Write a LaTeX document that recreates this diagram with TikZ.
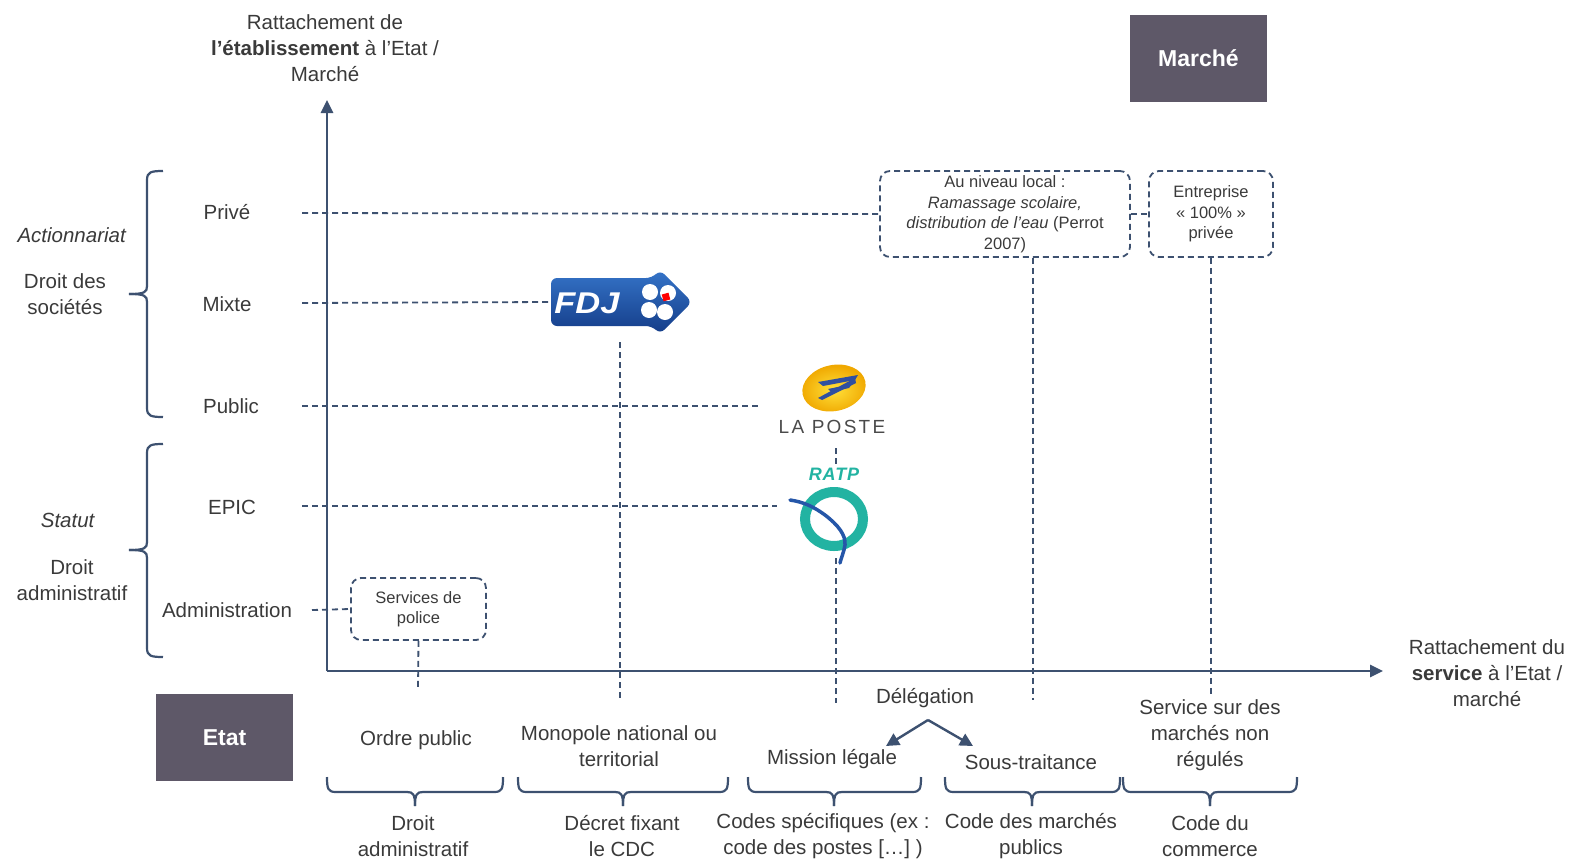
\documentclass[tikz,border=0pt]{standalone}
\usepackage{fontspec}
\setmainfont{Liberation Sans}
\usetikzlibrary{arrows.meta,shapes.geometric}
\definecolor{txt}{HTML}{3A3A3A}
\definecolor{axc}{HTML}{3D5170}
\definecolor{boxc}{HTML}{5E5868}
\definecolor{fdjA}{HTML}{3574C8}
\definecolor{fdjB}{HTML}{143C88}
\definecolor{ratpteal}{HTML}{22B3A2}
\definecolor{ratpblue}{HTML}{2556A8}
\definecolor{posteY}{HTML}{FFE03A}
\definecolor{posteO}{HTML}{F0A800}
\definecolor{posteblue}{HTML}{2F4FA0}
\definecolor{postegray}{HTML}{4A4A4A}
\newcommand\mybraceh[3]{%
  \draw[brc] (#1,777) .. controls (#1,789) and (#1+1,792) .. (#1+9,792) -- (#2-8,792) .. controls (#2-2,792) and (#2,794) .. (#2,806);
  \draw[brc] (#3,777) .. controls (#3,789) and (#3-1,792) .. (#3-9,792) -- (#2+8,792) .. controls (#2+2,792) and (#2,794) .. (#2,806);}
\newcommand\mybracev[3]{%
  \draw[brc] (163,#1) .. controls (151,#1) and (147,#1+1) .. (147,#1+9) -- (147,#2-8) .. controls (147,#2-2) and (145,#2) .. (129,#2);
  \draw[brc] (163,#3) .. controls (151,#3) and (147,#3-1) .. (147,#3-9) -- (147,#2+8) .. controls (147,#2+2) and (145,#2) .. (129,#2);}
\begin{document}
\begin{tikzpicture}[x=1pt,y=-1pt,
  lbl/.style={font=\fontsize{20.5}{26}\selectfont, text=txt, align=center, inner sep=0pt},
  small/.style={font=\fontsize{16.5}{20.5}\selectfont, text=txt, align=center},
  axis/.style={draw=axc, line width=2.6pt, -{Triangle[length=13pt,width=12pt]}},
  dline/.style={draw=axc, line width=1.8pt, dash pattern=on 6pt off 4pt},
  dbox/.style={draw=axc, line width=1.8pt, dash pattern=on 6pt off 4pt, rounded corners=10pt, inner sep=0pt},
  darkbox/.style={fill=boxc, text=white, font=\fontsize{23}{26}\bfseries, minimum width=137pt, minimum height=87pt, inner sep=0pt},
  brc/.style={draw=axc, line width=2.2pt},
  darr/.style={draw=axc, line width=2.4pt, -{Triangle[length=13pt,width=13pt]}}
]
\useasboundingbox (0,0) rectangle (1579,862);

% dark boxes
\node[darkbox] (marche) at (1198.5,58.5) {Marché};
\node[darkbox] (etat) at (224.5,737.5) {Etat};

% axis labels
\node[lbl] (ylab) at (325,48) {Rattachement de\\\textbf{l’établissement} à l’Etat /\\Marché};
\node[lbl] (xlab) at (1487,673) {Rattachement du\\\textbf{service} à l’Etat /\\marché};

% left labels
\node[lbl] (act) at (72,235) {\textit{Actionnariat}};
\node[lbl] (dsoc) at (65,294) {Droit des\\sociétés};
\node[lbl] (stat) at (68,520) {\textit{Statut}};
\node[lbl] (dadm) at (72,580) {Droit\\administratif};
\mybracev{171}{294}{417}
\mybracev{444}{550}{657}

% row labels
\node[lbl] (prive) at (227,212) {Privé};
\node[lbl] (mixte) at (227,304) {Mixte};
\node[lbl] (public) at (231,406) {Public};
\node[lbl] (epic) at (232,507) {EPIC};
\node[lbl] (admin) at (227,610) {Administration};

\coordinate (ps) at (302,213);
\coordinate (ms) at (302,303);
\coordinate (pus) at (302,406);
\coordinate (es) at (302,506);
\coordinate (as) at (312,610);

% boxes
\node[dbox, small, minimum width=250pt, minimum height=86pt] (b1) at (1005,214) {Au niveau local :\\\textit{Ramassage scolaire,}\\\textit{distribution de l’eau} (Perrot\\2007)};
\node[dbox, small, minimum width=124pt, minimum height=86pt] (b2) at (1211,214) {Entreprise\\« 100\% »\\privée};
\node[dbox, small, minimum width=135pt, minimum height=62pt] (pol) at (418.5,609) {Services de\\police};

% logo anchor nodes
\node[inner sep=0pt, minimum width=138pt, minimum height=64pt] (fdj) at (620,302) {};
\node[inner sep=0pt, minimum width=144pt, minimum height=80pt] (poste) at (832,406) {};
\node[inner sep=0pt, minimum width=114pt, minimum height=20pt] (ratp) at (834,506) {};

% end points of verticals
\coordinate (pole) at (418,688);
\coordinate (fe) at (620,698);
\coordinate (pe) at (836,703);
\coordinate (b1e) at (1033,700);
\coordinate (b2e) at (1211,695);

% dashed connectors
\draw[dline] (ps) -- (b1.west);
\draw[dline] (ms) -- (fdj.west);
\draw[dline] (pus) -- (poste.west);
\draw[dline] (es) -- (ratp.west);
\draw[dline] (as) -- (pol.west);
\draw[dline] (b1.east) -- (b2.west);
\draw[dline] (pol.south) -- (pole);
\draw[dline] ([yshift=-8pt]fdj.south) -- (fe);
\draw[dline] ([xshift=4pt,yshift=-2pt]poste.south) -- (pe);
\draw[dline] ([xshift=28pt]b1.south) -- (b1e);
\draw[dline] (b2.south) -- (b2e);

% axes
\coordinate (orig) at (327,671);
\coordinate (ytip) at (327,100);
\coordinate (xtip) at (1383,671);
\draw[axis] (orig) -- (ytip);
\draw[axis] (orig) -- (xtip);

% FDJ logo
\shade[top color=fdjA, bottom color=fdjB, rounded corners=6pt]
  (551,278) -- (652,278) -- (660,270) -- (692,302) -- (660,334) -- (652,326) -- (551,326) -- cycle;
\node[font=\fontsize{30}{30}\bfseries\itshape, text=white, xscale=1.15, inner sep=0pt] (fdjt) at (587,303) {FDJ};
\fill[white] (650,292) circle (8);
\fill[white] (668,293) circle (8);
\fill[white] (649,310) circle (8);
\fill[white] (665,312) circle (8);
\fill[red, rotate around={15:(666,297)}] (662.5,293.5) rectangle (669.5,300.5);

% La Poste logo
\begin{scope}[rotate around={12:(834,388)}]
\shade[inner color=posteY, outer color=posteO] (834,388) ellipse (32 and 23);
\end{scope}
\fill[posteblue] (818,382) -- (858,375) -- (855,380) -- (823,386) -- cycle;
\fill[posteblue] (828,389) -- (852,384) -- (849,388) -- (831,392) -- cycle;
\fill[posteblue] (855,378) -- (818,398) -- (822,400) -- (856,383) -- cycle;
\node[font=\fontsize{19}{19}\selectfont\addfontfeature{LetterSpace=12}, text=postegray, inner sep=0pt] (postet) at (832,427) {LA POSTE};

% RATP logo
\fill[white] (795,464) rectangle (875,558);
\node[font=\fontsize{18}{18}\bfseries\itshape\addfontfeature{LetterSpace=5}, text=ratpteal, inner sep=0pt] (ratpt) at (834,474) {RATP};
\draw[ratpteal, line width=10pt] (834,519) ellipse (29 and 27);
\draw[ratpblue, line width=3.5pt, line cap=round] (790,500) .. controls (804,502) and (814,507) .. (825,515) .. controls (838,525) and (846,535) .. (845,545) .. controls (844,552) and (841,558) .. (840,563);

% bottom texts
\node[lbl] (ordre) at (416,740) {Ordre public};
\node[lbl] (mono) at (619,746) {Monopole national ou\\territorial};
\node[lbl] (deleg) at (925,698) {Délégation};
\node[lbl] (mission) at (832,759) {Mission légale};
\node[lbl] (sous) at (1031,762) {Sous-traitance};
\node[lbl] (servm) at (1210,735) {Service sur des\\marchés non\\régulés};
\coordinate (dsplit) at (928,720);
\coordinate (mlp) at (886,746);
\coordinate (stp) at (973,746);
\draw[darr] (dsplit) -- (mlp);
\draw[darr] (dsplit) -- (stp);

% bottom braces
\mybraceh{327}{415}{503}
\mybraceh{518}{623}{728}
\mybraceh{748}{834}{921}
\mybraceh{945}{1032}{1120}
\mybraceh{1123}{1210}{1297}

\node[lbl] (l1) at (413,836) {Droit\\administratif};
\node[lbl] (l2) at (622,836) {Décret fixant\\le CDC};
\node[lbl] (l3) at (823,836) {Codes spécifiques (ex :\\code des postes […] )};
\node[lbl] (l4) at (1031,836) {Code des marchés\\publics};
\node[lbl] (l5) at (1210,836) {Code du\\commerce};
\end{tikzpicture}
\end{document}
